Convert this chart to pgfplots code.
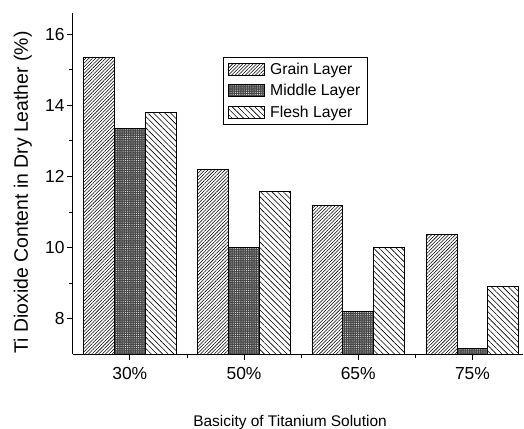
\documentclass[border=0pt]{standalone}
\usepackage{fontspec}
\setmainfont{Liberation Sans}
\usepackage{pgfplots}
\pgfplotsset{compat=1.18}
\usepackage{pgfplotstable}
\usetikzlibrary{patterns.meta}

% TiO2 content (%) of dry leather, by layer and basicity
\pgfplotstableread{
x grain middle flesh
0 15.35 13.36 13.79
1 12.20 10.00 11.58
2 11.19  8.19 10.00
3 10.36  7.16  8.90
}\leather

\begin{document}
\begin{tikzpicture}
\path[use as bounding box] (-72.7bp,-75bp) rectangle (451.3bp,354bp);
\begin{axis}[
  at={(0,0)}, anchor=south west,
  scale only axis, width=450bp, height=341bp,
  xmin=-0.5, xmax=3.44, ymin=7, ymax=16.6,
  axis lines*=left,
  axis line style={black, line width=0.8pt},
  ytick={8,10,12,14,16}, minor ytick={9,11,13,15},
  xtick={0,1,2,3}, xticklabels={30\%,50\%,65\%,75\%},
  minor xtick={0.5,1.5,2.5},
  tick align=outside,
  tick style={black, line width=0.8pt},
  major tick length=6bp, minor tick length=3.5bp,
  /pgf/number format/assume math mode=true,
  ticklabel style={font=\fontsize{17.5}{20}\selectfont},
  yticklabel style={inner sep=2bp},
  xticklabel style={yshift=-4bp},
  ylabel={Ti Dioxide Content in Dry Leather (\%)},
  ylabel style={at={(axis description cs:-0.111,0.474)}, anchor=center,
    font=\fontsize{19.5}{23}\selectfont},
  xlabel={Basicity of Titanium Solution},
  xlabel style={at={(axis description cs:0.483,-0.2)}, anchor=center,
    font=\fontsize{15.5}{18}\selectfont},
  ybar=0pt, bar width=0.27,
  legend style={at={(0.334,0.872)}, anchor=north west, draw=black,
    line width=0.8pt, inner xsep=5bp, inner ysep=4bp, row sep=4.5bp,
    column sep=3bp,
    font=\fontsize{15.8}{18}\selectfont, cells={anchor=west}},
  legend image code/.code={\draw[#1] (0bp,-6bp) rectangle (36bp,6bp);},
]
\addplot[draw=black, line width=0.8pt,
  pattern={Lines[angle=45, distance=2.4bp, line width=0.55bp]}]
  table[x=x, y=grain] {\leather};
\addplot[draw=black, line width=0.8pt, fill=black!72,
  postaction={pattern={Dots[distance=2.2bp, radius=0.5bp]}, pattern color=white}]
  table[x=x, y=middle] {\leather};
\addplot[draw=black, line width=0.8pt,
  pattern={Lines[angle=-45, distance=4bp, line width=0.6bp]}]
  table[x=x, y=flesh] {\leather};
\legend{Grain Layer, Middle Layer, Flesh Layer}
\end{axis}
\end{tikzpicture}
\end{document}
